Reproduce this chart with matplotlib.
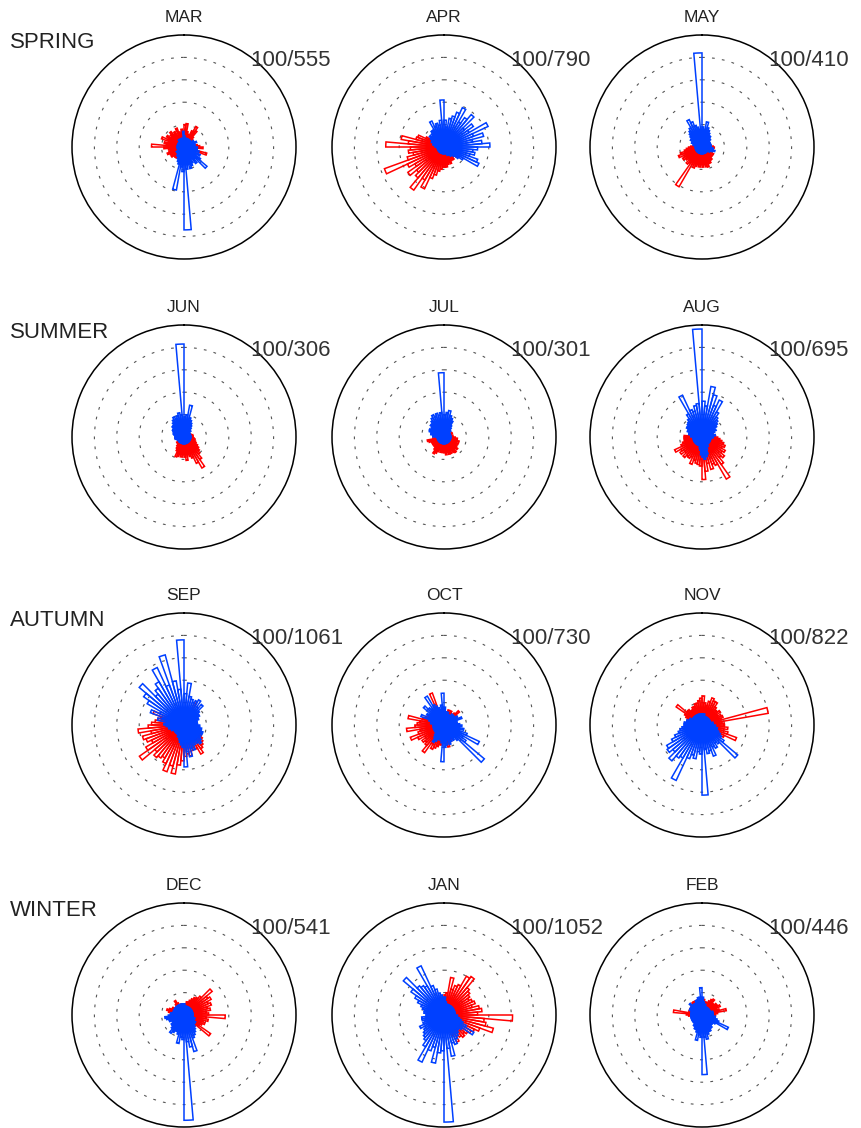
import numpy as np
import matplotlib
matplotlib.use('Agg')
import matplotlib.pyplot as plt

plt.rcParams['font.family'] = ['Liberation Sans', 'DejaVu Sans']

# data to plot: 72 direction bins of 5 deg, clockwise from north
# lengths in units of the dotted ring spacing (outer circle = 5)
months = ['MAR', 'APR', 'MAY', 'JUN', 'JUL', 'AUG',
          'SEP', 'OCT', 'NOV', 'DEC', 'JAN', 'FEB']
seasons = ['SPRING', 'SUMMER', 'AUTUMN', 'WINTER']
scale_labels = ['100/555', '100/790', '100/410', '100/306', '100/301', '100/695',
                '100/1061', '100/730', '100/822', '100/541', '100/1052', '100/446']

mar_red = [1.0, 1.05, 0.7, 0.6, 0.5, 0.8, 1.06, 0.9, 0.6,
           0.5, 0.4, 0.5, 0.4, 0.3, 0.4, 0.5, 0.6, 0.7,
           0.85, 0.6, 0.5, 1.05, 0.4, 0.3, 0.3, 0.2, 0.2,
           0.2, 0.2, 0.2, 0.2, 0.2, 0.2, 0.2, 0.2, 0.2,
           0.2, 0.3, 0.3, 0.4, 0.4, 0.5, 0.5, 0.6, 0.6,
           0.6, 0.7, 0.6, 0.7, 0.8, 0.7, 0.6, 0.7, 0.9,
           1.45, 0.8, 0.9, 0.7, 1.07, 0.8, 0.9, 0.7, 0.8,
           0.9, 0.7, 0.8, 0.6, 0.9, 0.7, 0.6, 0.8, 0.7]
mar_blue = [0.5, 0.4, 0.4, 0.3, 0.4, 0.3, 0.4, 0.3, 0.4,
            0.4, 0.3, 0.5, 0.4, 0.6, 0.4, 0.5, 0.4, 0.5,
            0.6, 0.5, 0.6, 0.7, 0.5, 0.8, 0.6, 0.9, 1.34,
            0.7, 0.9, 0.6, 0.8, 0.9, 1.0, 0.8, 1.0, 3.7,
            1.1, 0.9, 1.95, 0.8, 0.7, 0.6, 0.5, 0.5, 0.4,
            0.4, 0.3, 0.4, 0.3, 0.3, 0.3, 0.3, 0.3, 0.3,
            0.3, 0.3, 0.3, 0.3, 0.3, 0.3, 0.3, 0.3, 0.3,
            0.3, 0.4, 0.3, 0.4, 0.3, 0.4, 0.3, 0.4, 0.7]

apr_red = [0.3, 0.3, 0.3, 0.3, 0.3, 0.3, 0.3, 0.3, 0.3,
           0.3, 0.3, 0.3, 0.3, 0.3, 0.3, 0.3, 0.3, 0.3,
           0.4, 0.4, 0.5, 0.5, 0.6, 0.5, 0.6, 0.7, 0.6,
           0.6, 0.7, 0.6, 0.7, 0.8, 0.7, 0.8, 0.9, 0.9,
           0.9, 1.0, 1.1, 1.3, 1.5, 2.06, 1.7, 2.35, 1.8,
           1.6, 1.97, 1.5, 1.8, 2.83, 1.7, 1.4, 1.6, 1.5,
           2.6, 1.6, 1.94, 1.3, 1.25, 0.9, 0.7, 0.5, 0.4,
           0.4, 0.3, 0.3, 0.3, 0.3, 0.3, 0.3, 0.3, 0.3]
apr_blue = [1.2, 0.9, 1.3, 1.43, 1.65, 1.94, 1.3, 1.6, 1.89,
            1.2, 1.6, 1.3, 2.17, 1.4, 1.83, 1.3, 1.7, 2.05,
            1.5, 1.3, 1.4, 1.2, 1.6, 1.72, 1.0, 0.8, 0.6,
            0.5, 0.5, 0.4, 0.4, 0.4, 0.3, 0.3, 0.3, 0.3,
            0.3, 0.3, 0.3, 0.3, 0.3, 0.3, 0.3, 0.3, 0.3,
            0.3, 0.3, 0.3, 0.3, 0.3, 0.3, 0.3, 0.3, 0.3,
            0.4, 0.4, 0.5, 0.5, 0.6, 0.6, 0.7, 0.8, 0.7,
            0.8, 0.9, 0.9, 1.28, 1.0, 1.1, 1.0, 1.2, 2.1]

may_red = [0.2, 0.2, 0.2, 0.2, 0.2, 0.2, 0.2, 0.2, 0.2,
           0.2, 0.2, 0.2, 0.3, 0.3, 0.3, 0.4, 0.4, 0.5,
           0.55, 0.5, 0.4, 0.4, 0.5, 0.5, 0.6, 0.5, 0.6,
           0.6, 0.7, 0.7, 0.8, 0.8, 0.93, 0.9, 0.8, 0.9,
           0.8, 0.9, 0.8, 0.9, 1.0, 0.9, 2.05, 0.9, 1.0,
           0.8, 0.9, 1.0, 0.9, 1.12, 1.0, 0.8, 0.7, 0.6,
           0.5, 0.4, 0.3, 0.3, 0.2, 0.2, 0.2, 0.2, 0.2,
           0.2, 0.2, 0.2, 0.2, 0.2, 0.2, 0.2, 0.2, 0.2]
may_blue = [0.9, 0.8, 1.14, 0.9, 0.8, 0.7, 0.6, 0.6, 0.5,
            0.5, 0.4, 0.4, 0.4, 0.4, 0.4, 0.4, 0.4, 0.4,
            0.4, 0.5, 0.5, 0.6, 0.5, 0.4, 0.4, 0.3, 0.3,
            0.3, 0.3, 0.3, 0.3, 0.3, 0.3, 0.3, 0.3, 0.3,
            0.3, 0.3, 0.3, 0.3, 0.3, 0.3, 0.3, 0.3, 0.3,
            0.3, 0.3, 0.3, 0.3, 0.3, 0.3, 0.3, 0.3, 0.3,
            0.3, 0.3, 0.4, 0.4, 0.5, 0.5, 0.6, 0.6, 0.7,
            0.8, 0.9, 1.0, 1.35, 1.2, 1.0, 0.9, 0.8, 4.2]

jun_red = [0.2, 0.2, 0.2, 0.2, 0.2, 0.2, 0.2, 0.2, 0.2,
           0.2, 0.2, 0.3, 0.3, 0.3, 0.35, 0.4, 0.4, 0.4,
           0.4, 0.45, 0.5, 0.5, 0.55, 0.6, 0.7, 0.8, 0.9,
           1.0, 1.23, 1.6, 1.3, 1.0, 0.9, 0.8, 1.05, 0.9,
           0.8, 0.9, 0.8, 0.9, 0.95, 0.7, 0.6, 0.5, 0.4,
           0.4, 0.4, 0.3, 0.3, 0.3, 0.3, 0.3, 0.4, 0.4,
           0.4, 0.3, 0.3, 0.2, 0.2, 0.2, 0.2, 0.2, 0.2,
           0.2, 0.2, 0.2, 0.2, 0.2, 0.2, 0.2, 0.2, 0.2]
jun_blue = [0.9, 1.0, 1.44, 0.9, 0.8, 0.7, 0.6, 0.5, 0.4,
            0.4, 0.3, 0.3, 0.3, 0.3, 0.3, 0.3, 0.3, 0.3,
            0.3, 0.3, 0.3, 0.3, 0.3, 0.3, 0.3, 0.3, 0.3,
            0.3, 0.3, 0.3, 0.3, 0.3, 0.3, 0.3, 0.3, 0.3,
            0.3, 0.3, 0.3, 0.3, 0.3, 0.3, 0.3, 0.3, 0.3,
            0.3, 0.3, 0.3, 0.3, 0.3, 0.35, 0.4, 0.4, 0.4,
            0.4, 0.4, 0.45, 0.5, 0.5, 0.55, 0.6, 0.6, 0.7,
            0.7, 0.8, 0.9, 1.0, 0.9, 1.0, 1.1, 1.0, 4.15]

jul_red = [0.2, 0.2, 0.2, 0.2, 0.2, 0.2, 0.2, 0.2, 0.2,
           0.3, 0.3, 0.3, 0.4, 0.4, 0.3, 0.3, 0.4, 0.4,
           0.5, 0.6, 0.6, 0.7, 0.6, 0.7, 0.6, 0.7, 0.8,
           0.7, 0.85, 0.8, 0.7, 0.8, 0.8, 0.7, 0.8, 0.7,
           0.7, 0.6, 0.7, 0.6, 0.7, 0.8, 0.87, 0.7, 0.6,
           0.6, 0.5, 0.6, 0.5, 0.6, 0.7, 0.76, 0.5, 0.4,
           0.3, 0.3, 0.2, 0.2, 0.2, 0.2, 0.2, 0.2, 0.2,
           0.2, 0.2, 0.2, 0.2, 0.2, 0.2, 0.2, 0.2, 0.2]
jul_blue = [1.0, 1.1, 1.2, 1.0, 0.9, 0.8, 0.6, 0.5, 0.4,
            0.4, 0.3, 0.3, 0.3, 0.3, 0.3, 0.3, 0.3, 0.3,
            0.3, 0.3, 0.3, 0.3, 0.3, 0.3, 0.3, 0.3, 0.3,
            0.3, 0.3, 0.3, 0.3, 0.3, 0.3, 0.3, 0.3, 0.3,
            0.3, 0.3, 0.3, 0.3, 0.3, 0.3, 0.3, 0.3, 0.3,
            0.3, 0.3, 0.3, 0.3, 0.3, 0.3, 0.3, 0.3, 0.3,
            0.5, 0.5, 0.6, 0.6, 0.7, 0.73, 0.6, 0.7, 0.8,
            0.8, 0.9, 1.0, 1.1, 1.0, 1.1, 1.0, 1.1, 2.87]

aug_red = [0.2, 0.2, 0.2, 0.2, 0.2, 0.2, 0.2, 0.2, 0.2,
           0.3, 0.3, 0.3, 0.4, 0.4, 0.5, 0.5, 0.6, 0.6,
           0.7, 0.8, 0.9, 1.0, 1.1, 1.0, 1.2, 1.1, 1.31,
           1.2, 1.5, 2.17, 1.4, 1.3, 1.5, 1.2, 1.54, 1.9,
           1.3, 1.24, 1.2, 1.1, 1.3, 1.0, 1.1, 1.07, 1.2,
           1.0, 1.2, 1.1, 1.35, 1.0, 0.9, 0.8, 0.8, 0.8,
           0.8, 0.6, 0.5, 0.4, 0.3, 0.3, 0.2, 0.2, 0.2,
           0.2, 0.2, 0.2, 0.2, 0.2, 0.2, 0.2, 0.2, 0.2]
aug_blue = [1.6, 1.4, 2.29, 1.95, 1.5, 1.82, 1.3, 1.1, 1.0,
            0.9, 0.8, 0.65, 0.7, 0.6, 0.5, 0.5, 0.6, 0.5,
            0.5, 0.4, 0.4, 0.4, 0.4, 0.4, 0.4, 0.4, 0.4,
            0.4, 0.4, 0.5, 0.5, 0.6, 0.8, 0.9, 1.0, 0.9,
            0.8, 0.6, 0.5, 0.4, 0.4, 0.4, 0.4, 0.4, 0.4,
            0.4, 0.4, 0.4, 0.4, 0.4, 0.4, 0.4, 0.4, 0.4,
            0.5, 0.5, 0.6, 0.6, 0.7, 0.7, 0.8, 0.8, 0.86,
            0.9, 1.0, 1.2, 2.06, 1.3, 1.2, 1.43, 1.5, 4.82]

sep_red = [0.3, 0.3, 0.4, 0.5, 0.7, 1.1, 0.8, 0.6, 0.5,
           0.5, 0.4, 0.4, 0.4, 0.4, 0.4, 0.4, 0.5, 0.5,
           0.5, 0.5, 0.6, 0.6, 0.7, 0.8, 0.9, 1.0, 1.1,
           1.2, 1.3, 1.5, 1.2, 1.1, 1.2, 1.4, 1.3, 1.4,
           1.6, 1.8, 2.22, 1.9, 2.22, 1.9, 1.7, 1.8, 1.9,
           1.7, 2.43, 1.97, 1.6, 1.8, 1.92, 1.5, 2.06, 1.6,
           1.45, 1.3, 1.2, 1.1, 1.47, 0.8, 0.6, 0.5, 0.4,
           0.4, 0.3, 0.3, 0.3, 0.3, 0.3, 0.3, 0.3, 0.3]
sep_blue = [1.4, 1.88, 1.3, 1.2, 1.1, 1.2, 1.3, 1.0, 1.2,
            0.9, 0.8, 0.8, 0.7, 0.7, 0.6, 0.6, 0.6, 0.6,
            0.7, 0.7, 0.8, 0.8, 0.9, 0.9, 0.8, 0.9, 1.0,
            1.1, 1.0, 0.9, 1.0, 1.2, 1.1, 1.44, 1.2, 1.87,
            1.0, 0.9, 0.8, 0.7, 0.6, 0.6, 0.5, 0.5, 0.5,
            0.5, 0.5, 0.5, 0.5, 0.6, 0.6, 0.7, 0.7, 0.8,
            0.9, 0.8, 1.2, 1.0, 1.6, 1.2, 1.9, 2.2, 2.61,
            1.8, 2.0, 2.23, 2.83, 1.9, 3.24, 2.0, 1.6, 3.8]

oct_red = [0.5, 0.6, 0.6, 0.7, 0.6, 0.7, 0.6, 0.6, 0.7,
           0.9, 0.7, 0.6, 0.6, 0.5, 0.5, 0.5, 0.5, 0.5,
           0.5, 0.5, 0.5, 0.6, 0.5, 0.5, 0.5, 0.6, 0.6,
           0.6, 0.7, 0.7, 0.7, 0.8, 0.8, 1.0, 0.9, 0.8,
           0.8, 0.9, 0.9, 1.0, 1.1, 1.2, 1.0, 1.51, 1.2,
           1.1, 1.2, 1.0, 1.3, 1.6, 1.2, 1.1, 1.68, 1.3,
           1.2, 1.1, 1.63, 1.0, 0.9, 0.8, 0.8, 0.7, 0.7,
           0.7, 0.8, 0.8, 0.9, 1.52, 0.7, 0.6, 0.5, 0.5]
oct_blue = [0.8, 0.6, 0.5, 0.6, 0.5, 0.5, 0.4, 0.6, 0.5,
            0.6, 0.5, 0.7, 0.6, 0.85, 0.6, 0.5, 0.6, 0.7,
            0.8, 0.6, 0.9, 0.7, 1.1, 1.74, 1.0, 1.2, 2.35,
            0.9, 0.7, 0.8, 0.6, 0.8, 0.9, 0.7, 0.9, 1.0,
            1.64, 0.8, 0.7, 0.6, 0.7, 0.8, 0.9, 0.7, 0.6,
            0.5, 0.5, 0.4, 0.5, 0.4, 0.5, 0.4, 0.5, 0.4,
            0.5, 0.6, 0.5, 0.7, 1.1, 0.7, 0.9, 0.8, 1.2,
            1.0, 0.9, 1.49, 1.0, 0.9, 0.8, 0.7, 0.9, 1.42]

nov_red = [1.3, 1.0, 0.9, 1.1, 1.29, 1.2, 1.2, 1.0, 0.9,
           0.9, 1.0, 0.8, 0.95, 1.0, 0.9, 3.0, 0.9, 1.0,
           1.0, 1.16, 1.0, 1.2, 1.64, 1.1, 0.9, 0.8, 0.7,
           0.6, 0.5, 0.5, 0.4, 0.4, 0.4, 0.3, 0.3, 0.3,
           0.3, 0.3, 0.3, 0.3, 0.3, 0.3, 0.3, 0.3, 0.3,
           0.3, 0.3, 0.3, 0.3, 0.4, 0.4, 0.4, 0.5, 0.5,
           0.5, 0.6, 0.6, 0.7, 0.7, 0.8, 0.9, 1.41, 0.9,
           0.9, 0.8, 0.8, 0.9, 0.9, 1.0, 1.0, 1.1, 1.2]
nov_blue = [0.5, 0.5, 0.5, 0.4, 0.4, 0.4, 0.4, 0.4, 0.4,
            0.4, 0.4, 0.4, 0.4, 0.4, 0.4, 0.5, 0.5, 0.5,
            0.6, 0.6, 0.7, 0.7, 0.8, 0.9, 1.0, 1.2, 2.08,
            1.1, 1.0, 1.2, 1.1, 1.48, 1.2, 1.3, 1.1, 3.13,
            1.3, 1.2, 1.53, 1.4, 1.6, 2.73, 1.7, 1.8, 2.09,
            1.7, 1.9, 1.82, 1.5, 1.3, 1.1, 1.0, 0.9, 0.8,
            0.8, 0.8, 0.7, 0.7, 0.6, 0.6, 0.5, 0.5, 0.5,
            0.5, 0.5, 0.5, 0.5, 0.5, 0.5, 0.5, 0.5, 0.5]

dec_red = [0.5, 0.5, 0.6, 0.6, 0.7, 0.8, 0.9, 0.96, 1.1,
           1.64, 1.3, 1.4, 1.2, 1.3, 1.1, 1.2, 1.0, 1.1,
           1.84, 1.0, 1.1, 0.9, 1.0, 0.9, 0.8, 1.45, 0.7,
           0.6, 0.5, 0.5, 0.4, 0.4, 0.3, 0.3, 0.3, 0.3,
           0.3, 0.3, 0.3, 0.3, 0.3, 0.3, 0.3, 0.3, 0.3,
           0.3, 0.3, 0.3, 0.3, 0.4, 0.4, 0.5, 0.5, 0.6,
           0.6, 0.6, 0.7, 0.8, 0.7, 0.6, 0.6, 0.5, 0.5,
           0.5, 0.6, 0.75, 0.6, 0.5, 0.5, 0.5, 0.5, 0.5]
dec_blue = [0.5, 0.4, 0.4, 0.4, 0.4, 0.4, 0.4, 0.4, 0.4,
            0.4, 0.4, 0.4, 0.4, 0.4, 0.4, 0.4, 0.4, 0.4,
            0.4, 0.4, 0.4, 0.5, 0.5, 0.5, 0.6, 0.6, 0.6,
            0.7, 0.8, 0.9, 1.0, 1.1, 1.69, 1.45, 1.2, 4.7,
            1.1, 1.0, 1.29, 0.9, 0.8, 0.8, 0.9, 1.0, 0.8,
            0.7, 0.7, 0.6, 0.6, 0.7, 0.7, 0.8, 0.86, 0.7,
            0.6, 0.6, 0.5, 0.5, 0.5, 0.5, 0.5, 0.5, 0.5,
            0.5, 0.5, 0.5, 0.5, 0.5, 0.5, 0.5, 0.5, 0.5]

jan_red = [0.9, 1.0, 1.7, 1.2, 1.4, 1.5, 2.0, 2.1, 1.6,
           1.5, 1.4, 1.3, 1.4, 1.48, 1.3, 1.6, 1.7, 1.5,
           3.06, 1.8, 1.9, 2.28, 1.7, 1.5, 1.4, 1.3, 1.2,
           1.3, 1.2, 1.1, 1.34, 1.0, 0.8, 0.6, 0.5, 0.4,
           0.4, 0.4, 0.4, 0.4, 0.4, 0.4, 0.4, 0.4, 0.4,
           0.4, 0.4, 0.4, 0.5, 0.5, 0.6, 0.6, 0.8, 0.7,
           0.6, 0.5, 0.5, 0.5, 0.5, 0.5, 0.5, 0.5, 0.5,
           0.5, 0.5, 0.5, 0.5, 0.5, 0.5, 0.5, 0.5, 0.5]
jan_blue = [0.8, 0.6, 0.5, 0.5, 0.5, 0.5, 0.5, 0.5, 0.5,
            0.5, 0.5, 0.5, 0.5, 0.5, 0.5, 0.5, 0.5, 0.5,
            0.6, 0.6, 0.7, 0.8, 0.9, 1.1, 1.54, 1.0, 0.9,
            0.9, 1.0, 1.1, 1.2, 1.4, 1.3, 1.87, 1.5, 4.78,
            1.6, 1.7, 2.18, 1.5, 1.7, 2.32, 1.64, 1.4, 1.3,
            1.2, 1.1, 1.0, 1.2, 1.0, 0.9, 1.0, 1.0, 0.8,
            0.8, 0.9, 0.9, 1.0, 1.1, 1.3, 1.5, 1.8, 2.37,
            1.7, 1.6, 1.5, 2.42, 1.4, 1.2, 1.0, 0.9, 0.8]

feb_red = [0.75, 0.7, 0.6, 0.6, 0.6, 0.7, 0.8, 0.87, 0.7,
           0.7, 0.8, 0.8, 0.9, 0.7, 0.8, 1.1, 0.7, 0.6,
           0.6, 0.5, 0.5, 0.5, 0.4, 0.4, 0.4, 0.3, 0.3,
           0.3, 0.3, 0.3, 0.3, 0.3, 0.3, 0.3, 0.3, 0.3,
           0.3, 0.3, 0.3, 0.3, 0.3, 0.3, 0.3, 0.3, 0.3,
           0.3, 0.3, 0.3, 0.3, 0.4, 0.4, 0.4, 0.5, 0.6,
           0.7, 1.28, 0.6, 0.6, 0.6, 0.6, 0.6, 0.6, 0.6,
           0.6, 0.7, 0.7, 0.6, 0.7, 0.6, 0.7, 0.6, 0.7]
feb_blue = [0.8, 0.6, 0.5, 0.5, 0.4, 0.4, 0.4, 0.4, 0.4,
            0.4, 0.4, 0.4, 0.4, 0.4, 0.5, 0.5, 0.5, 0.5,
            0.5, 0.6, 0.6, 0.7, 0.8, 1.3, 0.7, 0.6, 0.6,
            0.6, 0.7, 0.7, 0.8, 0.8, 0.9, 1.1, 1.0, 2.66,
            1.0, 0.9, 1.15, 0.8, 0.7, 0.7, 0.6, 0.6, 0.5,
            0.5, 0.5, 0.5, 0.5, 0.5, 0.5, 0.5, 0.5, 0.5,
            0.5, 0.5, 0.5, 0.5, 0.6, 0.6, 0.6, 0.6, 0.74,
            0.6, 0.6, 0.6, 0.6, 0.7, 0.7, 0.8, 0.8, 1.22]

red_data = [mar_red, apr_red, may_red, jun_red, jul_red, aug_red,
            sep_red, oct_red, nov_red, dec_red, jan_red, feb_red]
blue_data = [mar_blue, apr_blue, may_blue, jun_blue, jul_blue, aug_blue,
             sep_blue, oct_blue, nov_blue, dec_blue, jan_blue, feb_blue]

# layout in pixels
W, H = 862, 1128
col_x = [184, 444, 702]
row_y = [147, 437, 725, 1015]
R = 112

fig = plt.figure(figsize=(W / 100., H / 100.), dpi=100)

bin_width = np.deg2rad(5)
theta = np.deg2rad(np.arange(72) * 5 + 2.5)

for k in range(12):
    row, col = k // 3, k % 3
    cx, cy = col_x[col], row_y[row]
    ax = fig.add_axes([(cx - R) / W, (H - cy - R) / H, 2. * R / W, 2. * R / H],
                      projection='polar')
    ax.set_theta_zero_location('N')
    ax.set_theta_direction(-1)
    ax.bar(theta, red_data[k], width=bin_width, bottom=0,
           facecolor='none', edgecolor='#ff0000', linewidth=1.1, zorder=3)
    ax.bar(theta, blue_data[k], width=bin_width, bottom=0,
           facecolor='none', edgecolor='#0040ff', linewidth=1.1, zorder=4)
    ax.set_ylim(0, 5)
    ax.set_xticks([])
    ax.set_yticks([1, 2, 3, 4])
    ax.set_yticklabels([])
    ax.tick_params(axis='both', length=0)
    ax.yaxis.grid(True, linestyle=(0, (2.5, 6.5)), color='#555555', linewidth=0.8)
    ax.spines['polar'].set_linewidth(1.1)
    ax.spines['polar'].set_color('black')

    fig.text(cx / W, 1 - (cy - 130) / H, months[k], ha='center', va='center',
             fontsize=12.5, color='#222222')
    fig.text((cx + 66) / W, 1 - (cy - 87) / H, scale_labels[k], ha='left',
             va='center', fontsize=16, color='#333333')

for row in range(4):
    fig.text(10 / W, 1 - (row_y[row] - 105) / H, seasons[row], ha='left',
             va='center', fontsize=16, color='#222222')

plt.savefig('out.png', dpi=100)
